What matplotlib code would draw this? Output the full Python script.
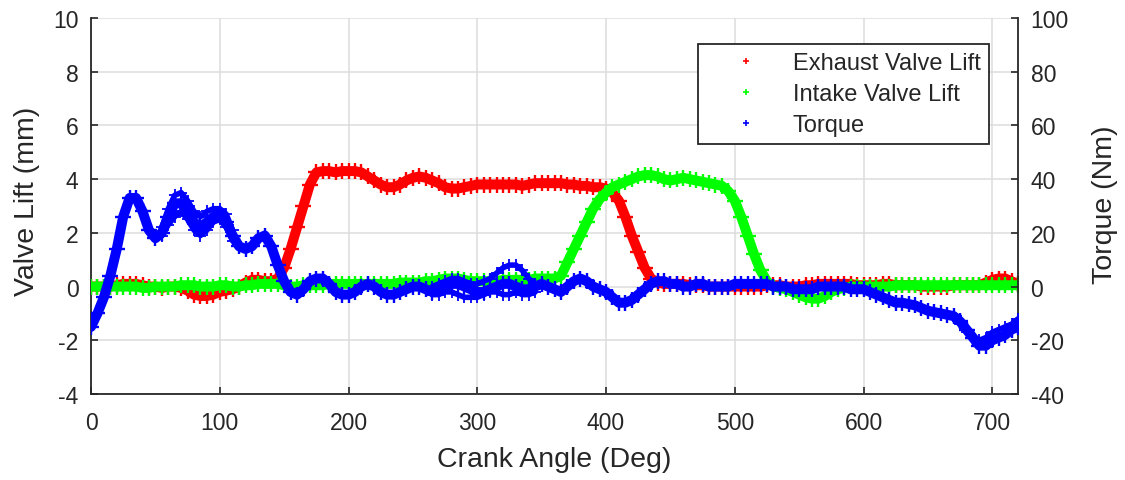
import numpy as np
import matplotlib
matplotlib.use("Agg")
import matplotlib.pyplot as plt
from matplotlib.lines import Line2D

plt.rcParams['font.family'] = ['Liberation Sans', 'DejaVu Sans']
plt.rcParams['axes.unicode_minus'] = False

# Crank angle grid (deg), one sample every 5 degrees over the 720 deg cycle
crank_deg = np.arange(0, 721, 5)

exhaust_lift = [
    0.0, 0.0, 0.0, 0.0, 0.05, 0.1, 0.1, 0.1, 0.05, 0.0,
    0.0, -0.05, 0.0, 0.0, -0.05, -0.15, -0.3, -0.35, -0.35, -0.3,
    -0.2, -0.15, -0.1, 0.0, 0.15, 0.25, 0.25, 0.2, 0.2, 0.3,
    0.7, 1.4, 2.2, 3.0, 3.8, 4.25, 4.3, 4.3, 4.25, 4.3,
    4.3, 4.3, 4.25, 4.1, 3.95, 3.8, 3.7, 3.7, 3.8, 3.95,
    4.05, 4.1, 4.05, 3.95, 3.85, 3.7, 3.65, 3.65, 3.7, 3.75,
    3.8, 3.8, 3.8, 3.8, 3.8, 3.8, 3.8, 3.75, 3.8, 3.85,
    3.85, 3.85, 3.85, 3.85, 3.8, 3.8, 3.75, 3.75, 3.7, 3.7,
    3.65, 3.5, 3.2, 2.6, 1.9, 1.3, 0.7, 0.3, 0.15, 0.1,
    0.1, 0.1, 0.1, 0.05, 0.05, 0.05, 0.0, 0.0, 0.0, 0.0,
    0.0, 0.0, 0.0, 0.0, 0.0, 0.05, 0.05, 0.05, 0.0, 0.0,
    0.0, 0.05, 0.05, 0.1, 0.1, 0.1, 0.1, 0.1, 0.1, 0.05,
    0.05, 0.05, 0.05, 0.1, 0.1, 0.05, 0.05, 0.05, 0.05, 0.0,
    0.0, 0.0, 0.0, 0.0, 0.05, 0.05, 0.05, 0.05, 0.05, 0.15,
    0.25, 0.3, 0.3, 0.2, 0.1,
]

intake_lift = [
    0.0, 0.0, 0.0, 0.0, 0.0, 0.0, 0.0, 0.0, -0.05, -0.05,
    0.0, 0.0, 0.0, 0.0, 0.05, 0.05, 0.05, 0.0, 0.0, 0.0,
    0.05, 0.05, 0.0, 0.0, 0.05, 0.05, 0.1, 0.1, 0.1, 0.1,
    0.05, 0.0, 0.0, 0.05, 0.05, 0.05, 0.05, 0.1, 0.1, 0.1,
    0.1, 0.1, 0.1, 0.1, 0.1, 0.1, 0.1, 0.1, 0.15, 0.15,
    0.15, 0.15, 0.2, 0.2, 0.25, 0.3, 0.3, 0.3, 0.25, 0.2,
    0.2, 0.2, 0.2, 0.2, 0.25, 0.25, 0.25, 0.25, 0.25, 0.3,
    0.3, 0.3, 0.3, 0.4, 0.9, 1.4, 1.9, 2.4, 2.9, 3.25,
    3.5, 3.7, 3.8, 3.9, 4.0, 4.1, 4.15, 4.15, 4.1, 4.0,
    3.95, 4.0, 4.05, 4.0, 3.95, 3.9, 3.85, 3.8, 3.75, 3.55,
    3.2, 2.6, 1.9, 1.2, 0.6, 0.2, 0.0, -0.05, -0.1, -0.2,
    -0.3, -0.4, -0.45, -0.45, -0.35, -0.2, -0.1, -0.05, 0.0, 0.0,
    0.0, 0.0, 0.0, 0.0, 0.0, 0.05, 0.05, 0.05, 0.05, 0.05,
    0.05, 0.05, 0.05, 0.05, 0.05, 0.05, 0.05, 0.05, 0.05, 0.05,
    0.05, 0.05, 0.05, 0.05, 0.05,
]

torque = [
    -15, -10, -4, 4, 14, 26, 33, 33, 28, 21,
    18, 20, 26, 31, 31, 28, 24, 22, 24, 26,
    27, 24, 19, 15, 14, 15, 18, 19, 15, 8,
    2, -2, -3, -1, 2, 3, 3, 1, -2, -3,
    -3, -2, 0, 1, 0, -2, -3, -3, -2, -1,
    0, 0, -1, -2, -1, 0, 1, 1, 0, -1,
    -2, -2, -1, 0, 1, 1, 0, -1, -1, 0,
    1, 0, -1, -2, 0, 2, 3, 2, 0, -1,
    -2, -4, -6, -6, -5, -3, -1, 1, 2, 2,
    1, 1, 0, 0, 1, 1, 0, 0, 0, 0,
    1, 1, 1, 1, 1, 1, 0, 0, 0, -1,
    -1, -1, -1, 0, 0, 0, 0, 0, -1, -1,
    -1, -2, -3, -4, -5, -6, -6, -6.5, -7, -8,
    -9, -9.5, -10, -10.5, -11, -13, -16, -19, -22, -22,
    -20, -19, -18, -16, -15,
]

# Cycle-to-cycle spread of the torque trace where the cycles separate
torque_early_deg = np.arange(55, 111, 5)
torque_early_hi = [22, 29, 34, 35, 32, 28, 26, 28, 29, 29, 27, 21]
torque_early_lo = [19, 23, 26, 28, 25, 21, 19, 21, 24, 25, 22, 17]

torque_mid_deg = np.arange(265, 346, 5)
torque_mid_hi = [0, 1, 2, 3, 3, 2, 1, 1, 2, 3, 5, 7, 8, 8, 6, 3, 1]
torque_mid_lo = [-3, -3, -2, -2, -3, -4, -4, -4, -3, -2, -2, -3, -3, -2, -3, -3, -2]

torque_late_deg = np.arange(670, 721, 5)
torque_late_alt = [-11, -14, -17, -19, -20, -19, -17, -16, -15, -14, -12]

RED = (1, 0, 0)
GREEN = (0, 1, 0)
BLUE = (0, 0, 1)
DARK = '#262626'

fig = plt.figure(figsize=(11.25, 4.81), dpi=100)
ax = fig.add_axes([0.0809, 0.1788, 0.8240, 0.7817])
ax2 = ax.twinx()


def trace(axis, x, y, color, lw=7.2, ms=11, mew=1.7):
    axis.plot(x, y, color=color, linestyle='-', linewidth=lw,
              marker='+', markersize=ms, markeredgewidth=mew,
              solid_joinstyle='round', solid_capstyle='round', zorder=3)


trace(ax, crank_deg, exhaust_lift, RED)
trace(ax, crank_deg, intake_lift, GREEN)

trace(ax2, crank_deg, torque, BLUE)
for xs, ys in [(torque_early_deg, torque_early_hi),
               (torque_early_deg, torque_early_lo),
               (torque_mid_deg, torque_mid_hi),
               (torque_mid_deg, torque_mid_lo),
               (torque_late_deg, torque_late_alt)]:
    trace(ax2, xs, ys, BLUE, lw=4.0, ms=8, mew=1.3)

ax.set_xlim(0, 720)
ax.set_ylim(-4, 10)
ax2.set_ylim(-40, 100)
ax.set_xticks(range(0, 701, 100))
ax.set_yticks(range(-4, 11, 2))
ax2.set_yticks(range(-40, 101, 20))

ax.grid(True, color='#dcdcdc', linewidth=1.1)
ax.set_axisbelow(True)

for side in ('top', 'right'):
    ax.spines[side].set_visible(False)
for side in ('top', 'left', 'bottom'):
    ax2.spines[side].set_visible(False)
for sp in (ax.spines['left'], ax.spines['bottom'], ax2.spines['right']):
    sp.set_color(DARK)
    sp.set_linewidth(1.3)

ax.tick_params(axis='both', direction='in', length=5, width=1.2,
               colors=DARK, labelsize=16.5, top=False, right=False)
ax.tick_params(axis='y', pad=9)
ax.tick_params(axis='x', pad=12)
ax2.tick_params(axis='y', direction='in', length=5, width=1.2,
                colors=DARK, labelsize=16.5, pad=9)

ax.set_xlabel('Crank Angle (Deg)', fontsize=20.5, color=DARK)
ax.set_ylabel('Valve Lift (mm)', fontsize=20.5, color=DARK)
ax2.set_ylabel('Torque (Nm)', fontsize=20.5, color=DARK)
ax.xaxis.set_label_coords(0.4995, -0.138)
ax.yaxis.set_label_coords(-0.055, 0.515)
ax2.yaxis.set_label_coords(1.080, 0.505)

handles = [
    Line2D([], [], color=RED, marker='+', linestyle='None', markersize=5, markeredgewidth=1.2),
    Line2D([], [], color=GREEN, marker='+', linestyle='None', markersize=5, markeredgewidth=1.2),
    Line2D([], [], color=BLUE, marker='+', linestyle='None', markersize=5, markeredgewidth=1.2),
]
leg = ax2.legend(handles, ['Exhaust Valve Lift', 'Intake Valve Lift', 'Torque'],
                 loc='upper left', bbox_to_anchor=(0.655, 0.931),
                 fontsize=17, frameon=True, fancybox=False, framealpha=1,
                 edgecolor=DARK, borderpad=0.35, handlelength=3.36,
                 handletextpad=0.3, labelspacing=0.38, borderaxespad=0)
leg.get_frame().set_linewidth(1.3)
for t in leg.get_texts():
    t.set_color(DARK)

fig.savefig('out.png', dpi=100)
